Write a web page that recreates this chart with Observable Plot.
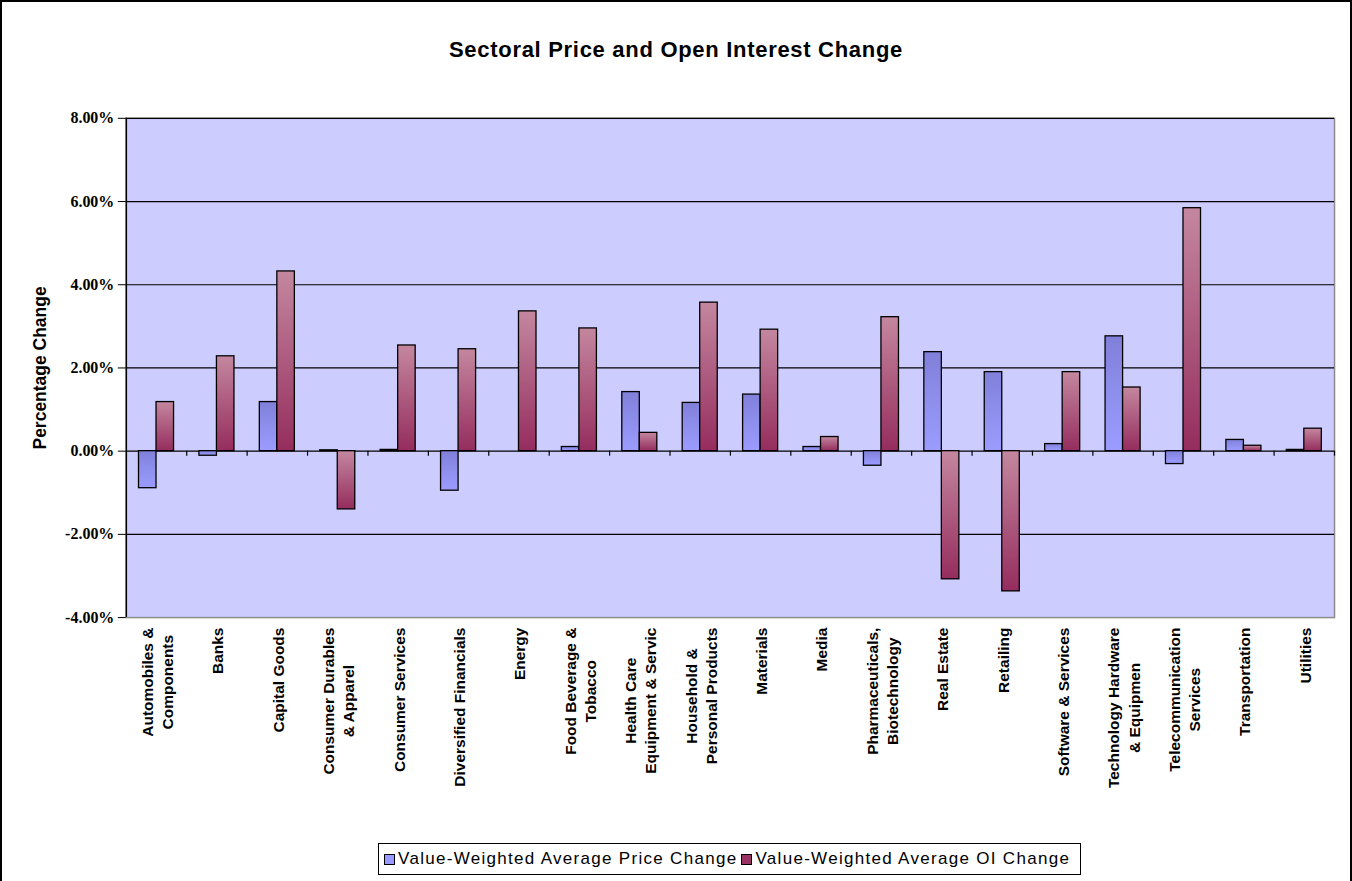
<!DOCTYPE html>
<html>
<head>
<meta charset="utf-8">
<script src="https://cdn.jsdelivr.net/npm/d3@7"></script>
<script src="https://cdn.jsdelivr.net/npm/@observablehq/plot@0.6"></script>
<style>
  body { margin: 0; background: #fff; }
  #chart { position: relative; width: 1352px; height: 881px; box-sizing: border-box; border: 2px solid #000; border-bottom: none; overflow: hidden; font-family: "Liberation Sans", Arial, sans-serif; background: #fff; }
  #title { position: absolute; top: 35px; left: 0; width: 100%; text-align: center; font-weight: bold; font-size: 22px; letter-spacing: 0.7px; color: #000; }
  #plot { position: absolute; left: -2px; top: -2px; }
  #legend { position: absolute; left: 376px; top: 841px; height: 32px; border: 1px solid #000; box-sizing: border-box; display: flex; align-items: center; padding: 0 6px 0 5px; font-size: 17px; letter-spacing: 1.3px; white-space: nowrap; background: #fff; color: #000; }
  #legend .sw { display: inline-block; width: 9px; height: 9px; border: 1px solid #000; margin-right: 3px; }
  #legend .item { display: flex; align-items: center; margin-right: 4px; }
</style>
</head>
<body>
<div id="chart">
  <div id="title">Sectoral Price and Open Interest Change</div>
  <div id="plot"></div>
  <div id="legend"></div>
</div>
<script>
const categories = [
  "Automobiles &\nComponents", "Banks", "Capital Goods", "Consumer Durables\n& Apparel",
  "Consumer Services", "Diversified Financials", "Energy", "Food Beverage &\nTobacco",
  "Health Care\nEquipment & Servic", "Household &\nPersonal Products", "Materials", "Media",
  "Pharmaceuticals,\nBiotechnology", "Real Estate", "Retailing", "Software & Services",
  "Technology Hardware\n& Equipmen", "Telecommunication\nServices", "Transportation", "Utilities"
];
const priceChange = [-0.89, -0.11, 1.18, 0.02, 0.03, -0.95, 0.0, 0.10, 1.42, 1.16, 1.36, 0.10, -0.35, 2.38, 1.90, 0.17, 2.76, -0.31, 0.27, 0.03];
const oiChange    = [1.18, 2.28, 4.32, -1.40, 2.54, 2.45, 3.36, 2.95, 0.44, 3.57, 2.92, 0.34, 3.22, -3.08, -3.37, 1.90, 1.53, 5.84, 0.13, 0.54];
const seriesNames = ["Value-Weighted Average Price Change", "Value-Weighted Average OI Change"];
const yTicks = [-4, -2, 0, 2, 4, 6, 8];

const W = 1352, H = 820;
const plotLeft = 126, plotRight = 1336, plotTop = 118, plotBottom = 618;
const step = (plotRight - plotLeft) / categories.length;
const bandwidth = step * 0.58;
const half = bandwidth / 2;

// measure label widths so rotated labels are top-aligned with centered lines
const labelFont = 15.5;
const ctx = document.createElement("canvas").getContext("2d");
ctx.font = `bold ${labelFont}px "Liberation Sans"`;
const labelWidth = (s) => d3.max(s.split("\n"), l => ctx.measureText(l).width);

const labelMarks = categories.map(c => Plot.text([c], {
  x: d => d, text: d => d, frameAnchor: "bottom", rotate: -90,
  textAnchor: "middle", lineAnchor: "middle", lineHeight: 1.3,
  dy: 10 + labelWidth(c) / 2, fontSize: labelFont, fontWeight: "bold",
  fontFamily: "Liberation Sans", fill: "#000"
}));

const svg = Plot.plot({
  width: W, height: H,
  marginLeft: plotLeft, marginRight: W - plotRight, marginTop: plotTop, marginBottom: H - plotBottom,
  style: { background: "transparent", color: "#000", overflow: "visible" },
  x: { type: "band", domain: categories, paddingInner: 0.42, paddingOuter: 0.21, round: false, axis: null },
  y: { domain: [-4, 8], axis: null },
  marks: [
    Plot.frame({ fill: "#ccccff", stroke: "#8c8c8c", strokeWidth: 1.5 }),
    Plot.ruleY(yTicks.filter(t => t > -4), { stroke: "#000", strokeWidth: 1.2 }),
    Plot.ruleX([categories[0]], { x: d => d, dx: -step / 2, stroke: "#000", strokeWidth: 1.5 }),
    Plot.ruleX(categories, { x: d => d, dx: step / 2, y1: 0, y2: -0.12, stroke: "#000", strokeWidth: 1.2 }),
    Plot.axisY({ ticks: yTicks, tickFormat: d => d.toFixed(2) + "%", tickSize: 8, tickPadding: 4,
      fontSize: 16, fontWeight: "bold", fontFamily: "Liberation Serif", label: null, stroke: "#000" }),
    Plot.text(["Percentage Change"], { text: d => d, frameAnchor: "left", textAnchor: "middle", rotate: -90, dx: -86,
      fontSize: 17.5, fontWeight: "bold", fontFamily: "Liberation Sans", fill: "#000" }),
    Plot.barY(categories, { x: d => d, y1: 0, y2: (d, i) => priceChange[i], fill: "url(#gPrice)",
      stroke: "#000", strokeWidth: 1.3, insetRight: half }),
    Plot.barY(categories, { x: d => d, y1: 0, y2: (d, i) => oiChange[i], fill: "url(#gOI)",
      stroke: "#000", strokeWidth: 1.3, insetLeft: half }),
    ...labelMarks
  ]
});

const defs = d3.select(svg).insert("defs", ":first-child");
function grad(id, c0, c1) {
  const g = defs.append("linearGradient").attr("id", id).attr("x1", 0).attr("y1", 0).attr("x2", 0).attr("y2", 1);
  g.append("stop").attr("offset", "0%").attr("stop-color", c0);
  g.append("stop").attr("offset", "100%").attr("stop-color", c1);
}
grad("gPrice", "#8080da", "#9c9cff");
grad("gOI", "#c4879f", "#952d5e");

document.getElementById("plot").appendChild(svg);

const legend = d3.select("#legend");
const swatches = ["#9999ff", "#993366"];
seriesNames.forEach((name, i) => {
  const item = legend.append("div").attr("class", "item");
  item.append("span").attr("class", "sw").style("background", swatches[i]);
  item.append("span").text(name);
});
</script>
</body>
</html>
